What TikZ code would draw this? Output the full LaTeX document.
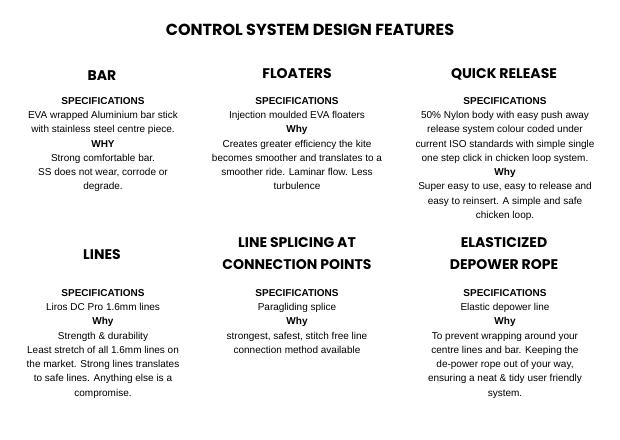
\documentclass[tikz,border=0pt]{standalone}
\usepackage{fontspec}
\setmainfont{Liberation Sans}
\newfontfamily\headfont{Poppins}
\usetikzlibrary{positioning}
\tikzset{
  titletext/.style={font=\headfont\fontsize{16}{18}\selectfont\bfseries},
  headtext/.style={font=\headfont\fontsize{14}{22}\selectfont\bfseries, align=center},
  bodytext/.style={font=\fontsize{10}{14.3}\selectfont, align=center, anchor=north, inner sep=0pt},
}
\newcommand{\hd}[1]{\textbf{#1}}
\begin{document}
\begin{tikzpicture}[x=1pt,y=-1pt]
  \useasboundingbox[fill=white] (0,0) rectangle (620,439);
  % title
  \node[titletext] (title) at (310,30) {CONTROL SYSTEM DESIGN FEATURES};
  % first row
  \node[headtext] (bar) at (102,76) {BAR};
  \node[headtext] (floaters) at (297,74) {FLOATERS};
  \node[headtext] (quick) at (504,74) {QUICK RELEASE};
  \node[bodytext] (barbody) at (103,97) {\hd{SPECIFICATIONS}\\EVA wrapped Aluminium bar stick\\with stainless steel centre piece.\\\hd{WHY}\\Strong comfortable bar.\\SS does not wear, corrode or\\degrade.};
  \node[bodytext] (floatbody) at (297,97) {\hd{SPECIFICATIONS}\\Injection moulded EVA floaters\\\hd{Why}\\Creates greater efficiency the kite\\becomes smoother and translates to a\\smoother ride. Laminar flow. Less\\turbulence};
  \node[bodytext] (quickbody) at (505,97) {\hd{SPECIFICATIONS}\\50\% Nylon body with easy push away\\release system colour coded under\\current ISO standards with simple single\\one step click in chicken loop system.\\\hd{Why}\\Super easy to use, easy to release and\\easy to reinsert. A simple and safe\\chicken loop.};
  % second row
  \node[headtext] (lines) at (102,255) {LINES};
  \node[headtext] (splice) at (297,254) {LINE SPLICING AT\\CONNECTION POINTS};
  \node[headtext] (rope) at (504,254) {ELASTICIZED\\DEPOWER ROPE};
  \node[bodytext] (linesbody) at (103,289) {\hd{SPECIFICATIONS}\\Liros DC Pro 1.6mm lines\\\hd{Why}\\Strength \& durability\\Least stretch of all 1.6mm lines on\\the market. Strong lines translates\\to safe lines. Anything else is a\\compromise.};
  \node[bodytext] (splicebody) at (297,289) {\hd{SPECIFICATIONS}\\Paragliding splice\\\hd{Why}\\strongest, safest, stitch free line\\connection method available};
  \node[bodytext] (ropebody) at (505,289) {\hd{SPECIFICATIONS}\\Elastic depower line\\\hd{Why}\\To prevent wrapping around your\\centre lines and bar. Keeping the\\de-power rope out of your way,\\ensuring a neat \& tidy user friendly\\system.};
\end{tikzpicture}
\end{document}
